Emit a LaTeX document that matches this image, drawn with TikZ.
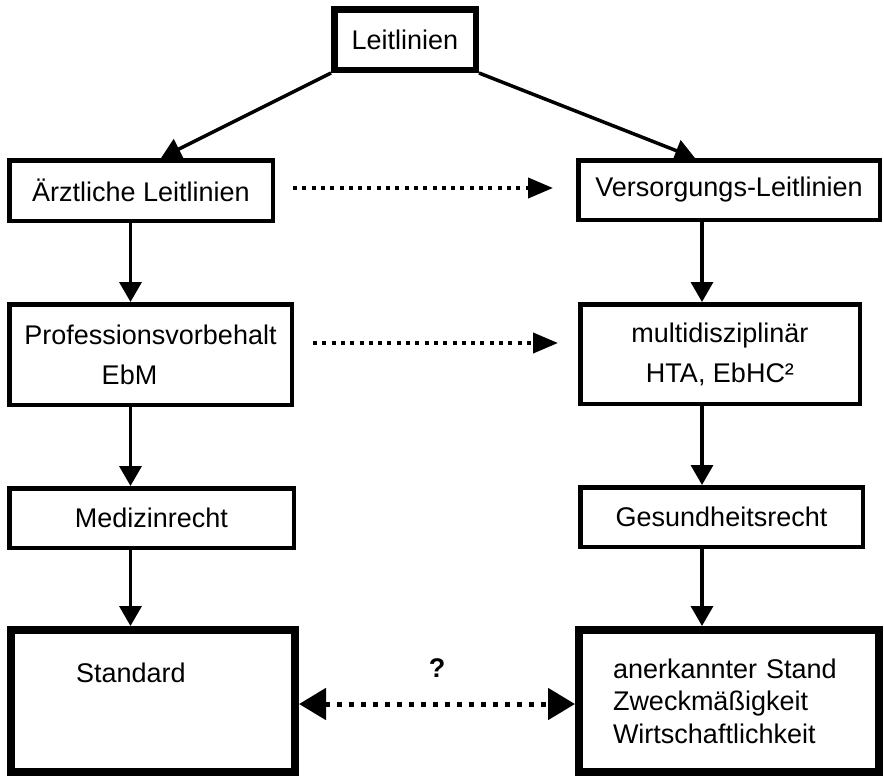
\documentclass[tikz,border=0pt]{standalone}
\usepackage{fontspec}
\setmainfont{Liberation Sans}
\usepackage{tikz}
\usetikzlibrary{arrows.meta,calc}
\tikzset{
  box/.style={draw, line width=4.5pt, align=center, inner sep=0pt, font=\fontsize{27}{32.5}\selectfont},
  topbox/.style={box, line width=6.5pt},
  endbox/.style={box, line width=8pt, align=left},
  link/.style={-{Triangle[length=20pt,width=22pt]}, line width=3.5pt},
  dots/.style={-{Triangle[length=25pt,width=20pt]}, line width=4pt, dash pattern=on 4pt off 5.3pt},
  bidots/.style={{Triangle[length=27pt,width=31pt]}-{Triangle[length=27pt,width=31pt]}, line width=5pt, dash pattern=on 5pt off 7pt},
  ask/.style={font=\bfseries\fontsize{27}{32.5}\selectfont, inner sep=0pt},
}

\begin{document}
\begin{tikzpicture}[x=1pt,y=-1pt]
  \useasboundingbox (0,0) rectangle (884,777);
  \coordinate (lc) at (130.5,0);
  \coordinate (rc) at (702,0);
  \node[topbox, minimum width=141.5pt, minimum height=60.5pt] (top) at (405,39.5) {Leitlinien};
  \node[box, minimum width=263.5pt, minimum height=60.5pt] (aerztl) at (141,190.5) {Ärztliche Leitlinien};
  \node[box, minimum width=301.5pt, minimum height=59.5pt] (versorg) at (729,190) {Versorgungs-Leitlinien};
  \node[box, minimum width=282.5pt, minimum height=100.5pt] (prof) at (150.5,354.5) {Professionsvorbehalt\\[7.5pt]\hspace*{-42pt}EbM};
  \node[box, minimum width=279.5pt, minimum height=99.5pt] (multi) at (720,354) {multidisziplinär\\[7.5pt]HTA, EbHC²};
  \node[box, minimum width=284.5pt, minimum height=59.5pt] (medizin) at (151.5,518) {Medizinrecht};
  \node[box, minimum width=282.5pt, minimum height=59.5pt] (gesund) at (721.5,517) {Gesundheitsrecht};
  \node[endbox, minimum width=284pt, text width=154pt, inner xsep=65pt, text height=52pt, text depth=90pt] (standard) at (153,701) {Standard};
  \node[endbox, minimum width=300pt, minimum height=142pt, text width=232pt, inner xsep=34pt] (anerk) at (729,701) {anerkannter Stand\\Zweckmäßigkeit\\Wirtschaftlichkeit};

  \draw[link] (top.south west) -- ([xshift=20pt]aerztl.north);
  \draw[link] (top.south east) -- ([xshift=-34pt]versorg.north);
  \draw[link] (aerztl.south -| lc) -- (prof.north -| lc);
  \draw[link] (prof.south -| lc) -- (medizin.north -| lc);
  \draw[link] (medizin.south -| lc) -- (standard.north -| lc);
  \draw[link] (versorg.south -| rc) -- (multi.north -| rc);
  \draw[link] (multi.south -| rc) -- (gesund.north -| rc);
  \draw[link] (gesund.south -| rc) -- (anerk.north -| rc);
  \draw[dots] ([xshift=18pt,yshift=2.5pt]aerztl.east) -- ([xshift=-23pt,yshift=2pt]versorg.west);
  \draw[dots] ([xshift=19pt,yshift=11.5pt]prof.east) -- ([xshift=-20pt,yshift=11pt]multi.west);
  \draw[bidots] ([yshift=-3pt]standard.east) -- node[ask, above=24pt] (q) {?} ([yshift=-3pt]anerk.west);
\end{tikzpicture}
\end{document}
